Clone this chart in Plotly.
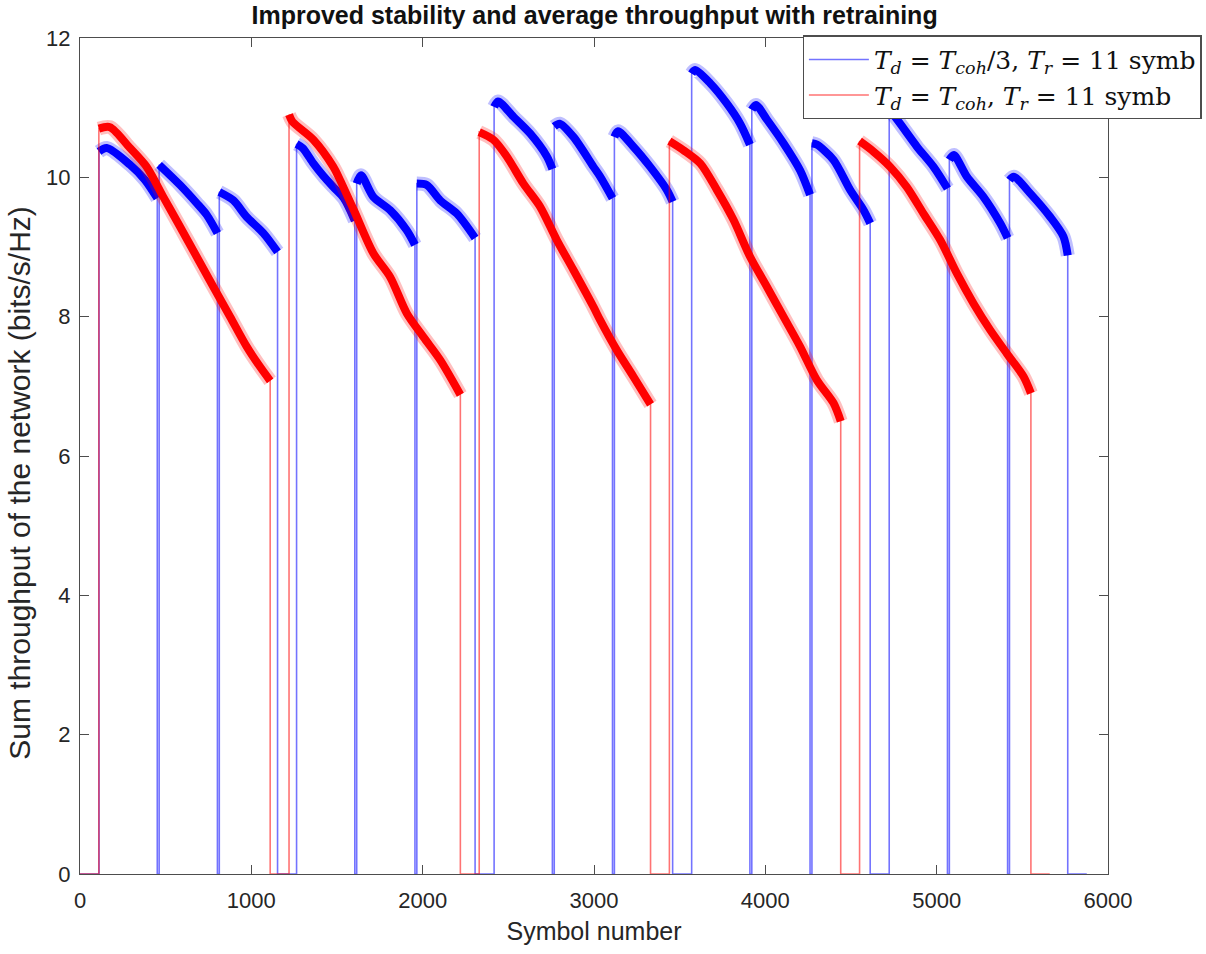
import plotly.graph_objects as go

# ---------------- data ----------------
blue_x = [0, 111, 111, 156, 292, 380, 451, 451, 462, 462, 584, 681, 740, 802, 802, 813, 813, 895, 973, 1070, 1153, 1153,
          1264, 1264, 1300, 1362, 1420, 1479, 1540, 1604, 1604, 1615, 1615, 1640, 1712, 1810, 1907, 1955, 1955, 1966, 1966, 2024, 2102, 2199, 2306, 2306,
          2417, 2417, 2440, 2530, 2627, 2725, 2757, 2757, 2768, 2768, 2800, 2880, 2997, 3036, 3108, 3108, 3119, 3119, 3140, 3230, 3328, 3425, 3459, 3459,
          3570, 3570, 3590, 3678, 3775, 3853, 3910, 3910, 3921, 3921, 3945, 4009, 4106, 4203, 4261, 4261, 4272, 4272, 4300, 4398, 4495, 4573, 4612, 4612,
          4723, 4723, 4787, 4885, 4982, 5063, 5063, 5074, 5074, 5100, 5176, 5273, 5371, 5414, 5414, 5425, 5425, 5450, 5546, 5663, 5740, 5765, 5765, 5876]
blue_y = [0, 0, 10.37, 10.42, 10.18, 9.96, 9.70, 0, 0, 10.18, 9.89, 9.63, 9.46, 9.20, 0, 0, 9.79, 9.67, 9.43, 9.20, 8.93, 0,
          0, 10.48, 10.42, 10.20, 10.02, 9.86, 9.70, 9.38, 0, 0, 9.91, 10.03, 9.72, 9.53, 9.24, 9.03, 0, 0, 9.91, 9.89, 9.67, 9.48, 9.13, 0,
          0, 11.01, 11.09, 10.87, 10.63, 10.30, 10.12, 0, 0, 10.73, 10.77, 10.58, 10.15, 10.01, 9.70, 0, 0, 10.58, 10.66, 10.44, 10.15, 9.82, 9.65, 0,
          0, 11.49, 11.54, 11.35, 11.06, 10.77, 10.47, 0, 0, 10.97, 11.04, 10.83, 10.49, 10.10, 9.75, 0, 0, 10.49, 10.47, 10.25, 9.82, 9.53, 9.34, 0,
          0, 10.98, 10.77, 10.44, 10.15, 9.84, 0, 0, 10.25, 10.32, 10.01, 9.72, 9.34, 9.13, 0, 0, 9.96, 10.01, 9.77, 9.43, 9.15, 8.88, 0, 0]

red_x = [0, 110, 110, 175, 292, 389, 486, 584, 681, 778, 876, 973, 1051, 1110, 1110,
         1220, 1220, 1240, 1362, 1479, 1518, 1600, 1712, 1810, 1907, 2004, 2102, 2220, 2220,
         2330, 2330, 2413, 2491, 2588, 2685, 2783, 2880, 2997, 3036, 3133, 3230, 3330, 3330,
         3440, 3440, 3522, 3620, 3717, 3814, 3911, 4009, 4106, 4203, 4301, 4398, 4440, 4440,
         4550, 4550, 4631, 4729, 4826, 4923, 5021, 5118, 5215, 5312, 5410, 5507, 5550, 5550, 5660]
red_y = [0, 0, 10.70, 10.72, 10.42, 10.15, 9.72, 9.29, 8.86, 8.43, 8.00, 7.57, 7.28, 7.08, 0,
         0, 10.90, 10.80, 10.54, 10.15, 9.96, 9.52, 8.91, 8.57, 8.05, 7.71, 7.38, 6.88, 0,
         0, 10.65, 10.54, 10.30, 9.91, 9.58, 9.10, 8.67, 8.14, 7.95, 7.52, 7.14, 6.74, 0,
         0, 10.52, 10.39, 10.20, 9.82, 9.39, 8.86, 8.43, 8.00, 7.57, 7.09, 6.76, 6.50, 0,
         0, 10.52, 10.37, 10.15, 9.86, 9.48, 9.10, 8.62, 8.19, 7.81, 7.47, 7.14, 6.90, 0, 0]

x_ticks = [0, 1000, 2000, 3000, 4000, 5000, 6000]
y_ticks = [0, 2, 4, 6, 8, 10, 12]

blue_name = "<i>T</i><sub><i>d</i></sub> = <i>T</i><sub><i>coh</i></sub>/3, <i>T</i><sub><i>r</i></sub> = 11 symb"
red_name = "<i>T</i><sub><i>d</i></sub> = <i>T</i><sub><i>coh</i></sub>, <i>T</i><sub><i>r</i></sub> = 11 symb"

title_text = "<b>Improved stability and average throughput with retraining</b>"
x_title = "Symbol number"
y_title = "Sum throughput of the network (bits/s/Hz)"


def band(vals):
    return [v if v > 0 else None for v in vals]


fig = go.Figure()


def add_series(xs, ys, rgb, name):
    r, g, b = rgb
    fig.add_trace(go.Scatter(x=xs, y=ys, mode="lines", name=name,
                             line=dict(color=f"rgba({r},{g},{b},0.55)", width=1.6),
                             showlegend=True))
    fig.add_trace(go.Scatter(x=xs, y=band(ys), mode="lines", showlegend=False,
                             line=dict(color=f"rgba({r},{g},{b},0.25)", width=14,
                                       shape="spline", smoothing=0.8),
                             connectgaps=False, hoverinfo="skip"))
    fig.add_trace(go.Scatter(x=xs, y=band(ys), mode="lines", showlegend=False,
                             line=dict(color=f"rgb({r},{g},{b})", width=8,
                                       shape="spline", smoothing=0.8),
                             connectgaps=False, hoverinfo="skip"))


add_series(blue_x, blue_y, (0, 0, 255), blue_name)
add_series(red_x, red_y, (255, 0, 0), red_name)

axis_common = dict(showline=True, linecolor="#4d4d4d", linewidth=1.2, mirror="ticks",
                   ticks="inside", ticklen=9, tickwidth=1.2, tickcolor="#4d4d4d",
                   showgrid=False, zeroline=False,
                   tickfont=dict(family="Liberation Sans, Arial", size=22, color="#262626"))

fig.update_layout(
    width=1206, height=954,
    margin=dict(l=80, r=98, t=38, b=80, autoexpand=False),
    paper_bgcolor="white", plot_bgcolor="white",
    title=dict(text=title_text, x=0.493, xanchor="center", y=0.984, yanchor="middle",
               font=dict(family="Liberation Sans, Arial", size=25, color="#111111")),
    xaxis=dict(range=[0, 6000], tickvals=x_ticks, ticklabelstandoff=6, automargin=False,
               title=dict(text=x_title, standoff=10,
                          font=dict(family="Liberation Sans, Arial", size=25, color="#262626")),
               **axis_common),
    yaxis=dict(range=[0, 12], tickvals=y_ticks, ticklabelstandoff=4, automargin=False,
               **axis_common),
    legend=dict(x=0.703, y=1.003, xanchor="left", yanchor="top",
                bgcolor="white", bordercolor="#4d4d4d", borderwidth=1.2,
                font=dict(family="DejaVu Serif, Liberation Serif, serif", size=25, color="#111111"),
                tracegroupgap=0, itemwidth=60),
    showlegend=True,
)

fig.add_annotation(text=y_title, textangle=-90, xref="paper", yref="paper",
                   x=-0.0584, y=0.468, xanchor="center", yanchor="middle", showarrow=False,
                   font=dict(family="Liberation Sans, Arial", size=30, color="#262626"))

fig.write_html("out.html")
